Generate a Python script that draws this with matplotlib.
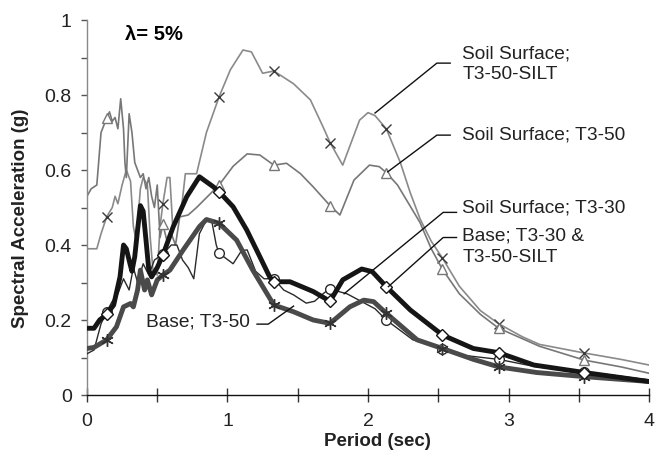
import matplotlib
matplotlib.use("Agg")
import matplotlib.pyplot as plt
import numpy as np

plt.rcParams['font.family'] = ['Liberation Sans', 'DejaVu Sans']

# ---------------- data ----------------
marker_periods = [0.14, 0.54, 0.94, 1.33, 1.73, 2.13, 2.53, 2.93, 3.54]

silt_x = [0, 0.07, 0.10, 0.14, 0.18, 0.20, 0.22, 0.25, 0.28, 0.31, 0.33, 0.35, 0.38, 0.40, 0.43,
          0.45, 0.47, 0.50, 0.52, 0.54, 0.57, 0.59, 0.61, 0.64, 0.67, 0.70, 0.78, 0.85, 0.94, 1.02,
          1.11, 1.17, 1.25, 1.33, 1.47, 1.59, 1.68, 1.73, 1.82, 1.94, 2.0, 2.05, 2.13, 2.23, 2.30,
          2.37, 2.45, 2.53, 2.65, 2.80, 2.93, 3.10, 3.22, 3.54, 3.80, 4.0]
silt_y = [0.39, 0.39, 0.43, 0.475, 0.50, 0.53, 0.51, 0.56, 0.60, 0.57, 0.45, 0.41, 0.55, 0.58, 0.56,
          0.42, 0.33, 0.32, 0.45, 0.51, 0.58, 0.58, 0.45, 0.46, 0.49, 0.59, 0.59, 0.70, 0.795, 0.867,
          0.92, 0.915, 0.858, 0.864, 0.83, 0.787, 0.715, 0.673, 0.613, 0.733, 0.753, 0.745, 0.71, 0.62, 0.54,
          0.47, 0.41, 0.365, 0.29, 0.225, 0.19, 0.155, 0.135, 0.112, 0.095, 0.08]

t350_x = [0, 0.03, 0.07, 0.10, 0.14, 0.16, 0.18, 0.20, 0.22, 0.24, 0.26, 0.27, 0.28, 0.30, 0.32,
          0.34, 0.36, 0.38, 0.40, 0.42, 0.44, 0.46, 0.48, 0.50, 0.52, 0.54, 0.57, 0.60, 0.63, 0.66,
          0.72, 0.78, 0.86, 0.94, 1.04, 1.14, 1.23, 1.33, 1.42, 1.52, 1.61, 1.73, 1.80, 1.90, 2.01,
          2.08, 2.13, 2.21, 2.29, 2.37, 2.45, 2.53, 2.65, 2.80, 2.93, 3.10, 3.22, 3.54, 3.80, 4.0]
t350_y = [0.53, 0.55, 0.56, 0.70, 0.738, 0.755, 0.73, 0.74, 0.71, 0.79, 0.71, 0.62, 0.58, 0.75, 0.70,
          0.62, 0.60, 0.58, 0.59, 0.55, 0.58, 0.53, 0.50, 0.56, 0.42, 0.455, 0.41, 0.43, 0.40, 0.475,
          0.48, 0.50, 0.53, 0.56, 0.61, 0.643, 0.64, 0.613, 0.618, 0.59, 0.555, 0.505, 0.48, 0.573, 0.613,
          0.609, 0.593, 0.56, 0.51, 0.46, 0.39, 0.335, 0.27, 0.215, 0.178, 0.15, 0.13, 0.093, 0.075, 0.058]

base30_x = [0, 0.05, 0.10, 0.14, 0.18, 0.22, 0.26, 0.30, 0.33, 0.36, 0.40, 0.44, 0.48, 0.54, 0.60,
            0.64, 0.68, 0.72, 0.76, 0.80, 0.85, 0.89, 0.92, 0.94, 1.04, 1.10, 1.14, 1.20, 1.26, 1.33,
            1.40, 1.47, 1.56, 1.62, 1.68, 1.73, 1.80, 1.85, 1.95, 2.05, 2.13, 2.32, 2.53, 2.70, 2.93,
            3.20, 3.54, 3.80, 4.0]
base30_y = [0.11, 0.12, 0.19, 0.222, 0.25, 0.27, 0.31, 0.28, 0.34, 0.30, 0.35, 0.32, 0.36, 0.376, 0.40,
            0.40, 0.36, 0.34, 0.31, 0.43, 0.467, 0.46, 0.40, 0.378, 0.35, 0.385, 0.387, 0.33, 0.31, 0.31,
            0.28, 0.267, 0.245, 0.25, 0.27, 0.284, 0.275, 0.27, 0.25, 0.23, 0.20, 0.147, 0.124, 0.105, 0.095,
            0.075, 0.062, 0.05, 0.04]

soil30_x = [0, 0.05, 0.09, 0.14, 0.19, 0.235, 0.26, 0.28, 0.306, 0.32, 0.34, 0.36, 0.38, 0.40, 0.42,
            0.44, 0.46, 0.50, 0.54, 0.614, 0.71, 0.80, 0.90, 0.94, 1.04, 1.137, 1.23, 1.30, 1.33, 1.445,
            1.61, 1.73, 1.82, 1.955, 2.03, 2.13, 2.30, 2.53, 2.75, 2.93, 3.18, 3.54, 4.0]
soil30_y = [0.178, 0.178, 0.20, 0.215, 0.24, 0.315, 0.40, 0.39, 0.35, 0.33, 0.369, 0.44, 0.505, 0.49, 0.413,
            0.333, 0.315, 0.34, 0.373, 0.449, 0.529, 0.582, 0.555, 0.542, 0.502, 0.44, 0.369, 0.315, 0.302, 0.302,
            0.276, 0.25, 0.307, 0.336, 0.329, 0.289, 0.227, 0.16, 0.124, 0.113, 0.08, 0.06, 0.036]

base50_x = [0, 0.05, 0.14, 0.21, 0.26, 0.31, 0.33, 0.36, 0.38, 0.41, 0.43, 0.46, 0.50, 0.54, 0.59,
            0.685, 0.80, 0.85, 0.94, 1.065, 1.18, 1.28, 1.33, 1.47, 1.61, 1.73, 1.87, 1.97, 2.04, 2.13,
            2.35, 2.53, 2.75, 2.93, 3.20, 3.54, 4.0]
base50_y = [0.124, 0.127, 0.147, 0.182, 0.235, 0.244, 0.235, 0.28, 0.333, 0.28, 0.307, 0.267, 0.307, 0.32, 0.333,
            0.387, 0.449, 0.468, 0.458, 0.413, 0.333, 0.271, 0.24, 0.222, 0.20, 0.191, 0.235, 0.253, 0.249, 0.218,
            0.147, 0.124, 0.095, 0.075, 0.06, 0.049, 0.036]

labels = ["Soil Surface;\nT3-50-SILT", "Soil Surface; T3-50", "Soil Surface; T3-30",
          "Base; T3-30 &\nT3-50-SILT", "Base; T3-50"]

# ---------------- figure ----------------
fig = plt.figure(figsize=(6.65, 4.62), dpi=100)
ax = fig.add_axes([0.1308, 0.145, 0.8452, 0.8117])

def marks(xs):
    return [i for i, v in enumerate(xs) if any(abs(v - m) < 1e-9 for m in marker_periods)]

ax.plot(silt_x, silt_y, color='#8a8a8a', lw=1.2, marker='x', ms=7, mew=1.0,
        mec='#3a3a3a', markevery=marks(silt_x), zorder=2)
ax.plot(t350_x, t350_y, color='#777777', lw=1.2, marker='^', ms=7, mew=1.0,
        mfc='white', mec='#777777', markevery=marks(t350_x), zorder=2)
ax.plot(base30_x, base30_y, color='#2a2a2a', lw=1.0, marker='o', ms=7, mew=1.0,
        mfc='white', mec='#2a2a2a', markevery=marks(base30_x), zorder=3)
ax.plot(base50_x, base50_y, color='#4a4a4a', lw=3.5, marker=(6, 2, 0), ms=9, mew=1.0,
        mec='#333333', markevery=marks(base50_x), zorder=4)
ax.plot(soil30_x, soil30_y, color='#151515', lw=3.5, marker='D', ms=6, mew=1.0,
        mfc='white', mec='#151515', markevery=marks(soil30_x), zorder=5)

# leaders and labels
lc = '#111111'
fs = 13.8
tc = '#222222'
ax.plot([2.05, 2.49, 2.585], [0.752, 0.885, 0.885], color=lc, lw=1.0, zorder=6)
ax.text(2.67, 0.882, labels[0], fontsize=fs, va='center', ha='left', linespacing=1.3, color=tc)
ax.plot([2.14, 2.49, 2.585], [0.595, 0.693, 0.693], color=lc, lw=1.0, zorder=6)
ax.text(2.67, 0.693, labels[1], fontsize=fs, va='center', ha='left', color=tc)
ax.plot([1.83, 2.535, 2.63], [0.27, 0.487, 0.487], color=lc, lw=1.0, zorder=6)
ax.text(2.67, 0.50, labels[2], fontsize=fs, va='center', ha='left', color=tc)
ax.plot([2.145, 2.535, 2.63], [0.289, 0.42, 0.42], color=lc, lw=1.0, zorder=6)
ax.text(2.67, 0.395, labels[3], fontsize=fs, va='center', ha='left', linespacing=1.3, color=tc)
ax.plot([1.47, 1.29, 1.21], [0.237, 0.189, 0.189], color=lc, lw=1.0, zorder=6)
ax.text(0.42, 0.196, labels[4], fontsize=fs, va='center', ha='left', color=tc)

ax.text(0.27, 0.962, "λ= 5%", fontsize=14.5, fontweight='bold', va='center', ha='left')

# axes styling
ax.set_xlim(0, 4)
ax.set_ylim(0, 1)
ax.set_xticks([0, 1, 2, 3, 4])
ax.set_xticks([0.5, 1.5, 2.5, 3.5], minor=True)
ax.set_yticks([0, 0.2, 0.4, 0.6, 0.8, 1.0])
ax.set_yticklabels(['0', '0.2', '0.4', '0.6', '0.8', '1'])
ax.set_yticks(np.arange(0.1, 1.0, 0.2), minor=True)
ax.set_xticklabels(['0', '1', '2', '3', '4'])

for s in ['top', 'right']:
    ax.spines[s].set_visible(False)
ax.spines['left'].set_color('#888888')
ax.spines['bottom'].set_color('#111111')
ax.spines['left'].set_linewidth(1.0)
ax.spines['bottom'].set_linewidth(1.0)

ax.tick_params(axis='x', which='both', direction='inout', length=10, width=1.0,
               color='#333333', labelsize=14, pad=8, labelcolor=tc)
ax.tick_params(axis='y', which='both', direction='out', length=4, width=1.0,
               color='#555555', labelsize=14, pad=7, labelcolor=tc)

ax.set_xlabel("Period (sec)", fontsize=13.5, fontweight='bold', color=tc)
ax.set_ylabel("Spectral Acceleration (g)", fontsize=13.5, fontweight='bold', color=tc)
ax.xaxis.set_label_coords(0.517, -0.1)
ax.yaxis.set_label_coords(-0.103, 0.47)

fig.savefig("out.png", dpi=100)
